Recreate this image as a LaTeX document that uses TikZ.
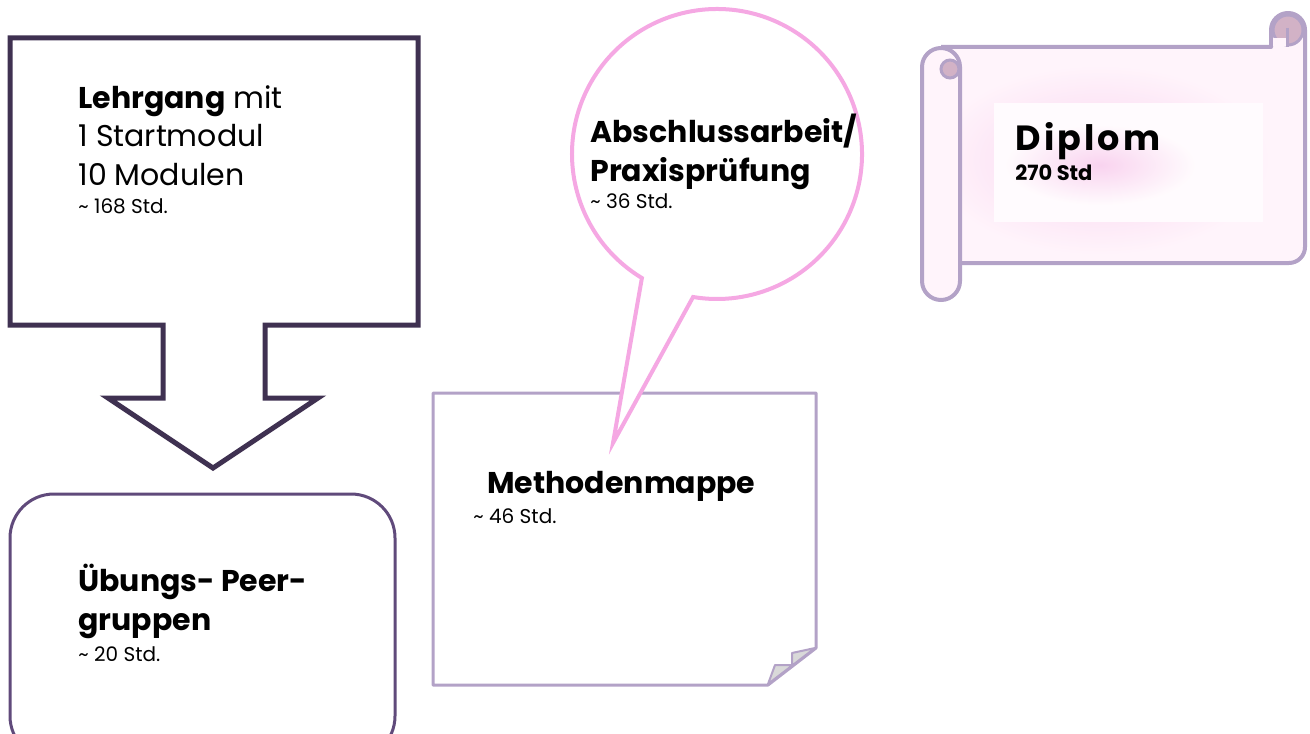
\documentclass[tikz,border=0pt]{standalone}
\usepackage{fontspec}
\setmainfont{Poppins}
\usetikzlibrary{positioning,calc}
\definecolor{arrowline}{HTML}{3F3151}
\definecolor{peerline}{HTML}{604A7B}
\definecolor{noteline}{HTML}{B3A2C7}
\definecolor{bubbleline}{HTML}{F5A8E3}
\definecolor{scrollfill}{HTML}{FFF4FB}
\definecolor{scrollglow}{HTML}{F9D3EF}
\definecolor{curlfill}{HTML}{D2B2C6}
\tikzset{
  title/.style={anchor=base west, inner sep=0pt, align=left,
    font=\bfseries\fontsize{15}{19.5}\selectfont},
  plain/.style={anchor=base west, inner sep=0pt, align=left,
    font=\fontsize{15}{19.25}\selectfont},
  hours/.style={anchor=base west, inner sep=0pt, font=\fontsize{10}{12}\selectfont},
}
\begin{document}
\begin{tikzpicture}[x=0.5pt,y=-0.5pt]
\useasboundingbox (0,0) rectangle (1310,733);
\clip (0,0) rectangle (1310,733);
% Lehrgang (block arrow)
\draw[arrowline, line width=2.5pt, line join=miter] (10,38) -- (418,38) -- (418,325)
  -- (265,325) -- (265,398) -- (318,398) -- (213,468) -- (108,398) -- (163,398)
  -- (163,325) -- (10,325) -- cycle;
\node[plain] (lehrgang) at (78,185) {\textbf{Lehrgang} mit\\1 Startmodul\\10 Modulen};
\node[hours] (lehrgangstd) at (78,213) {\textasciitilde{} 168 Std.};
% Peergruppen
\draw[peerline, line width=1.5pt, rounded corners=22pt] (10,494) rectangle (395,760);
\node[title] (peer) at (78,630) {Übungs- Peer-\\gruppen};
\node[hours] (peerstd) at (78,661) {\textasciitilde{} 20 Std.};
% Methodenmappe (note with folded corner)
\draw[noteline, line width=1.5pt, line join=round] (433,393) -- (816,393) -- (816,648)
  -- (768,685) -- (433,685) -- cycle;
\filldraw[noteline, fill=gray!30, line width=1pt, line join=round] (768,684) -- (775,665)
  -- (792,665) -- (792,653) -- (815,648) -- cycle;
\node[title] (mappe) at (487,493) {Methodenmappe};
\node[hours] (mappestd) at (473,523) {\textasciitilde{} 46 Std.};
% Abschlussarbeit (speech bubble)
\coordinate (bubble) at (717,154);
\coordinate (tip) at (613,443);
\filldraw[bubbleline, fill=white, line width=2pt, line join=miter]
  ($(bubble)+(121.2:145)$) arc[start angle=121.2, end angle=459.5, radius=145]
  -- (tip) -- cycle;
\node[title] (abschluss) at (590,181) {Abschlussarbeit/\\Praxisprüfung};
\node[hours] (abschlussstd) at (590,208) {\textasciitilde{} 36 Std.};
% Diplom (scroll)
\fill[scrollfill] (941,47) -- (1271,47) -- (1271,30) arc[start angle=180, end angle=360, radius=17]
  [rounded corners=8pt] -- (1305,263) [sharp corners] -- (941,263) -- cycle;
\shade[inner color=scrollglow, outer color=scrollfill] (1100,160) ellipse[x radius=170, y radius=95];
\fill[scrollfill!35!white] (994,103) rectangle (1263,222);
\shade[inner color=scrollglow, outer color=scrollfill!35!white] (1100,165) ellipse[x radius=95, y radius=40];
\draw[noteline, line width=2pt, line join=round] (941,47) -- (1271,47) -- (1271,30)
  arc[start angle=180, end angle=360, radius=17] [rounded corners=8pt] -- (1305,263)
  [sharp corners] -- (960,263);
\filldraw[noteline, fill=curlfill, line width=1.5pt] (1288,30) circle[radius=15];
\fill[scrollfill] (1273,38) rectangle (1286,46);
\draw[noteline, line width=1.5pt] (1287,28) -- (1287,47);
\filldraw[noteline, fill=scrollfill, line width=2pt] (960,67) -- (960,281)
  arc[start angle=0, end angle=180, radius=19] -- (922,67)
  arc[start angle=180, end angle=360, radius=19] -- cycle;
\filldraw[noteline, fill=curlfill, line width=1.5pt] (950,69) circle[radius=9];
\node[title, font=\bfseries\fontsize{17.5}{22}\selectfont\addfontfeature{LetterSpace=9}] (diplom) at (1015,150) {Diplom};
\node[hours, font=\bfseries\fontsize{10.5}{12}\selectfont] (diplomstd) at (1015,180) {270 Std};
\end{tikzpicture}
\end{document}
